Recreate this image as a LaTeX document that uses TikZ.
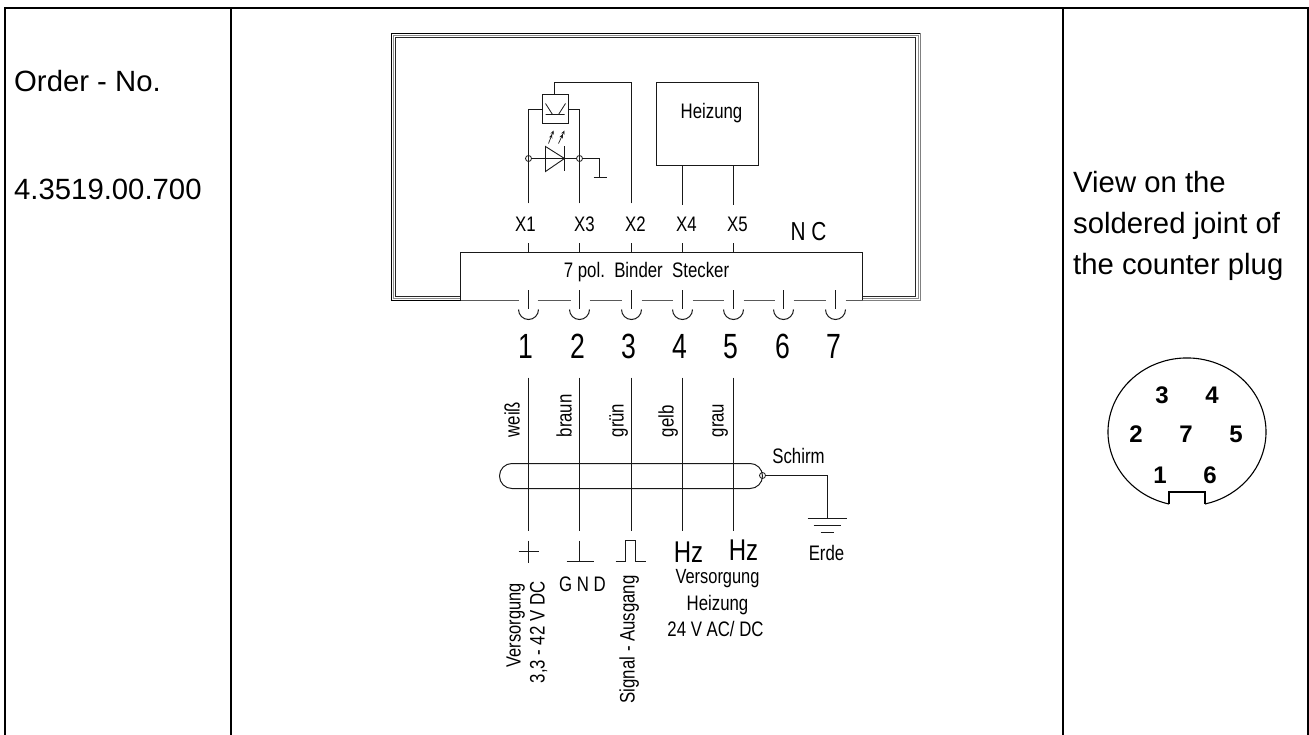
\documentclass[tikz,border=0pt]{standalone}
\usetikzlibrary{arrows.meta}
\usepackage{fontspec}
\setmainfont{Liberation Sans}
\newfontfamily\narrowf[FakeStretch=0.8]{Liberation Sans}
\newfontfamily\narrowd[FakeStretch=0.76]{Liberation Sans}
\tikzset{
  x=1pt,y=-1pt,
  wire/.style={draw=black!90,line width=1pt},
  tbl/.style={draw=black,line width=2pt},
  txtlarge/.style={inner sep=0pt,anchor=base west,font=\fontsize{29.3}{34}\selectfont},
  lbl/.style={inner sep=0pt,anchor=base,text=black,font=\narrowf\fontsize{21}{25}\selectfont},
  lblv/.style={inner sep=0pt,anchor=base,text=black,font=\narrowf\fontsize{20.5}{25}\selectfont},
  lblrot/.style={inner sep=0pt,anchor=base west,rotate=90,text=black,font=\narrowf\fontsize{21}{25}\selectfont},
  lblrotv/.style={inner sep=0pt,anchor=base west,rotate=90,text=black,font=\narrowf\fontsize{20.5}{25}\selectfont},
  pinnum/.style={inner sep=0pt,anchor=base,text=black,font=\narrowd\fontsize{35}{40}\selectfont},
  hz/.style={inner sep=0pt,anchor=base,text=black,font=\narrowf\fontsize{30}{34}\selectfont},
  ncl/.style={inner sep=0pt,anchor=base,text=black,font=\narrowf\fontsize{26}{30}\selectfont},
  contact/.style={inner sep=0pt,anchor=center,font=\bfseries\fontsize{24}{28}\selectfont},
  junction/.style={circle,draw=black!90,line width=.8pt,inner sep=0pt,minimum size=6pt,fill=none},
  boxed/.style={draw=black!90,line width=1pt,inner sep=0pt,rectangle},
  led/.style={draw=black!90,line width=.7pt,-{Stealth[length=4pt,width=3.5pt]Stealth[length=4pt,width=3.5pt]}},
}
\begin{document}
\begin{tikzpicture}
\useasboundingbox (0,0) rectangle (1309,735);
% table
\coordinate (tl) at (5,8); \coordinate (tr) at (1308,8);
\coordinate (bl) at (5,735); \coordinate (br) at (1308,735);
\coordinate (c1t) at (231,8); \coordinate (c1b) at (231,735);
\coordinate (c2t) at (1063,8); \coordinate (c2b) at (1063,735);
\draw[tbl] (bl) -- (tl) -- (tr) -- (br);
\draw[tbl] (c1t) -- (c1b);
\draw[tbl] (c2t) -- (c2b);
\node[txtlarge] (order) at (14,92) {Order - No.};
\node[txtlarge] (number) at (14,200) {4.3519.00.700};
\node[txtlarge] (v1) at (1073,193) {View on the};
\node[txtlarge] (v2) at (1073,234) {soldered joint of};
\node[txtlarge] (v3) at (1073,275) {the counter plug};
\begin{scope}[xshift=.5pt,yshift=-.5pt]
% housing frame
\draw[draw=black,line width=1pt] (460,300) -- (391,300) -- (391,33) -- (920,33);
\draw[draw=black!50,line width=1pt] (920,33) -- (920,300) -- (862,300);
\draw[draw=black!45,line width=1pt] (460,298) -- (393,298) -- (393,35) -- (918,35) -- (918,298) -- (862,298);
\draw[draw=black!85,line width=1pt] (460,296) -- (395,296) -- (395,37) -- (915,37) -- (915,296) -- (862,296);
% plug box
\draw[wire] (460,300) -- (460,252) -- (862,252) -- (862,300);
\node[lbl] (stecker) at (646,277) {7 pol.\ \ Binder\ \ Stecker};
% pins
\foreach \n/\x/\lx in {1/528/525,2/579/577,3/631/628,4/682/679,5/733/730,6/783/782,7/835/833}{
  \coordinate (pt\n) at (\x,290); \coordinate (pb\n) at (\x,309);
  \coordinate (pl\n) at (\x-10,309);
  \draw[wire] (pt\n) -- (pb\n);
  \draw[wire] (pl\n) arc[start angle=180,end angle=360,radius=10pt];
  \node[pinnum] (num\n) at (\lx,358) {\n};
}
\foreach \a/\b in {460/518,537/570,589/621,641/672,692/723,743/774,793/825,845/862}{
  \draw[draw=black!65,line width=1pt] (\a,300) -- (\b,300);
}
% upper wires
\foreach \n/\x/\lab/\lx in {1/528/X1/525,3/579/X3/584,2/631/X2/635,4/682/X4/686,5/733/X5/737}{
  \coordinate (st\n) at (\x,243); \coordinate (sb\n) at (\x,252);
  \draw[wire] (st\n) -- (sb\n);
  \node[lbl] (lab\n) at (\lx,231) {\lab};
}
\node[ncl] (nc) at (808,240) {N C};
% heating
\node[boxed,minimum width=102pt,minimum height=83pt] (heat) at (707,123.5) {};
\node[lbl] (heattext) at (711,118) {Heizung};
\coordinate (h4) at (682,165); \coordinate (h4e) at (682,205);
\coordinate (h5) at (733,165); \coordinate (h5e) at (733,205);
\draw[wire] (h4) -- (h4e);
\draw[wire] (h5) -- (h5e);
% optocoupler
\node[boxed,minimum width=26pt,minimum height=29pt] (sensor) at (555,108.5) {};
\coordinate (s1) at (528,203); \coordinate (s1t) at (528,109); \coordinate (s1r) at (542,109);
\coordinate (s3) at (579,203); \coordinate (s3t) at (579,109); \coordinate (s3l) at (568,109);
\coordinate (s2) at (631,203); \coordinate (s2t) at (631,82); \coordinate (s2l) at (554,82); \coordinate (s2b) at (554,94);
\draw[wire] (s1) -- (s1t) -- (s1r);
\draw[wire] (s3) -- (s3t) -- (s3l);
\draw[wire] (s2) -- (s2t) -- (s2l) -- (s2b);
\draw[draw=black!90,line width=.8pt] (545,114) -- (564,114) (545,103) -- (552,114) (565,103) -- (558,114);
% LED arrows
\draw[led] (548,143) -- (553,130);
\draw[led] (558,143) -- (564,130);
% diode
\node[junction] (j1) at (528,158) {};
\node[junction] (j3) at (579,158) {};
\coordinate (gt) at (599,158); \coordinate (gb) at (599,177);
\draw[wire] (j1) -- (j3);
\draw[wire] (j3) -- (gt) -- (gb);
\draw[wire] (593,177) -- (606,177);
\draw[draw=black!90,line width=.9pt] (545,146) -- (545,171) -- (564,158) -- cycle;
\draw[draw=black!90,line width=.9pt] (564,146) -- (564,171);
% cable wires
\foreach \x in {528,579,631,682,733}{
  \draw[wire] (\x,377) -- (\x,530);
}
\node[lblrot] (w1) at (519,437) {weiß};
\node[lblrot] (w2) at (571,437) {braun};
\node[lblrot] (w3) at (623,437) {grün};
\node[lblrot] (w4) at (673,437) {gelb};
\node[lblrot] (w5) at (723,437) {grau};
\draw[wire,rounded corners=12.4pt] (499,463) rectangle (762,488);
\node[junction] (shield) at (762,475) {};
\coordinate (sg1) at (827,475); \coordinate (sg2) at (827,518);
\draw[wire] (shield) -- (sg1) -- (sg2);
\draw[wire] (807,518) -- (846,518);
\draw[wire] (813,525) -- (840,525);
\draw[wire] (820,532) -- (833,532);
\node[lbl] (schirm) at (798,463) {Schirm};
\node[lbl] (erde) at (826,560) {Erde};
% symbols
\draw[wire] (528,540) -- (528,562) (518,551) -- (538,551);
\draw[wire] (579,540) -- (579,561) (566,561) -- (593,561);
\draw[wire] (615,561) -- (625,561) -- (625,540) -- (635,540) -- (635,561) -- (645,561);
\node[hz] (hz1) at (688,562) {Hz};
\node[hz] (hz2) at (743,560) {Hz};
\node[lbl] (gnd) at (582,591) {G N D};
\node[lblv] (ver) at (717,583) {Versorgung};
\node[lbl] (hei) at (717,610) {Heizung};
\node[lbl] (volt) at (715,636) {24 V AC/ DC};
\node[lblrotv] (rv) at (520,667) {Versorgung};
\node[lblrot] (rv2) at (544,683) {3,3 - 42 V DC};
\node[lblrot] (rs) at (634,703) {Signal - Ausgang};
\end{scope}
% counter plug
\coordinate (nl) at (1169,504); \coordinate (nlt) at (1169,492);
\coordinate (nrt) at (1205,492); \coordinate (nr) at (1205,504);
\draw[draw=black,line width=1.1pt] (nl) arc[start angle=256.83,end angle=-76.83,x radius=79pt,y radius=74pt];
\draw[draw=black,line width=1.1pt] (nl) -- (nlt) -- (nrt) -- (nr);
\node[contact] (c3) at (1162,395) {3};
\node[contact] (c4) at (1212,395) {4};
\node[contact] (c2) at (1136,434) {2};
\node[contact] (c7) at (1186,434) {7};
\node[contact] (c5) at (1236,434) {5};
\node[contact] (c1) at (1160,475) {1};
\node[contact] (c6) at (1210,475) {6};
\end{tikzpicture}
\end{document}
